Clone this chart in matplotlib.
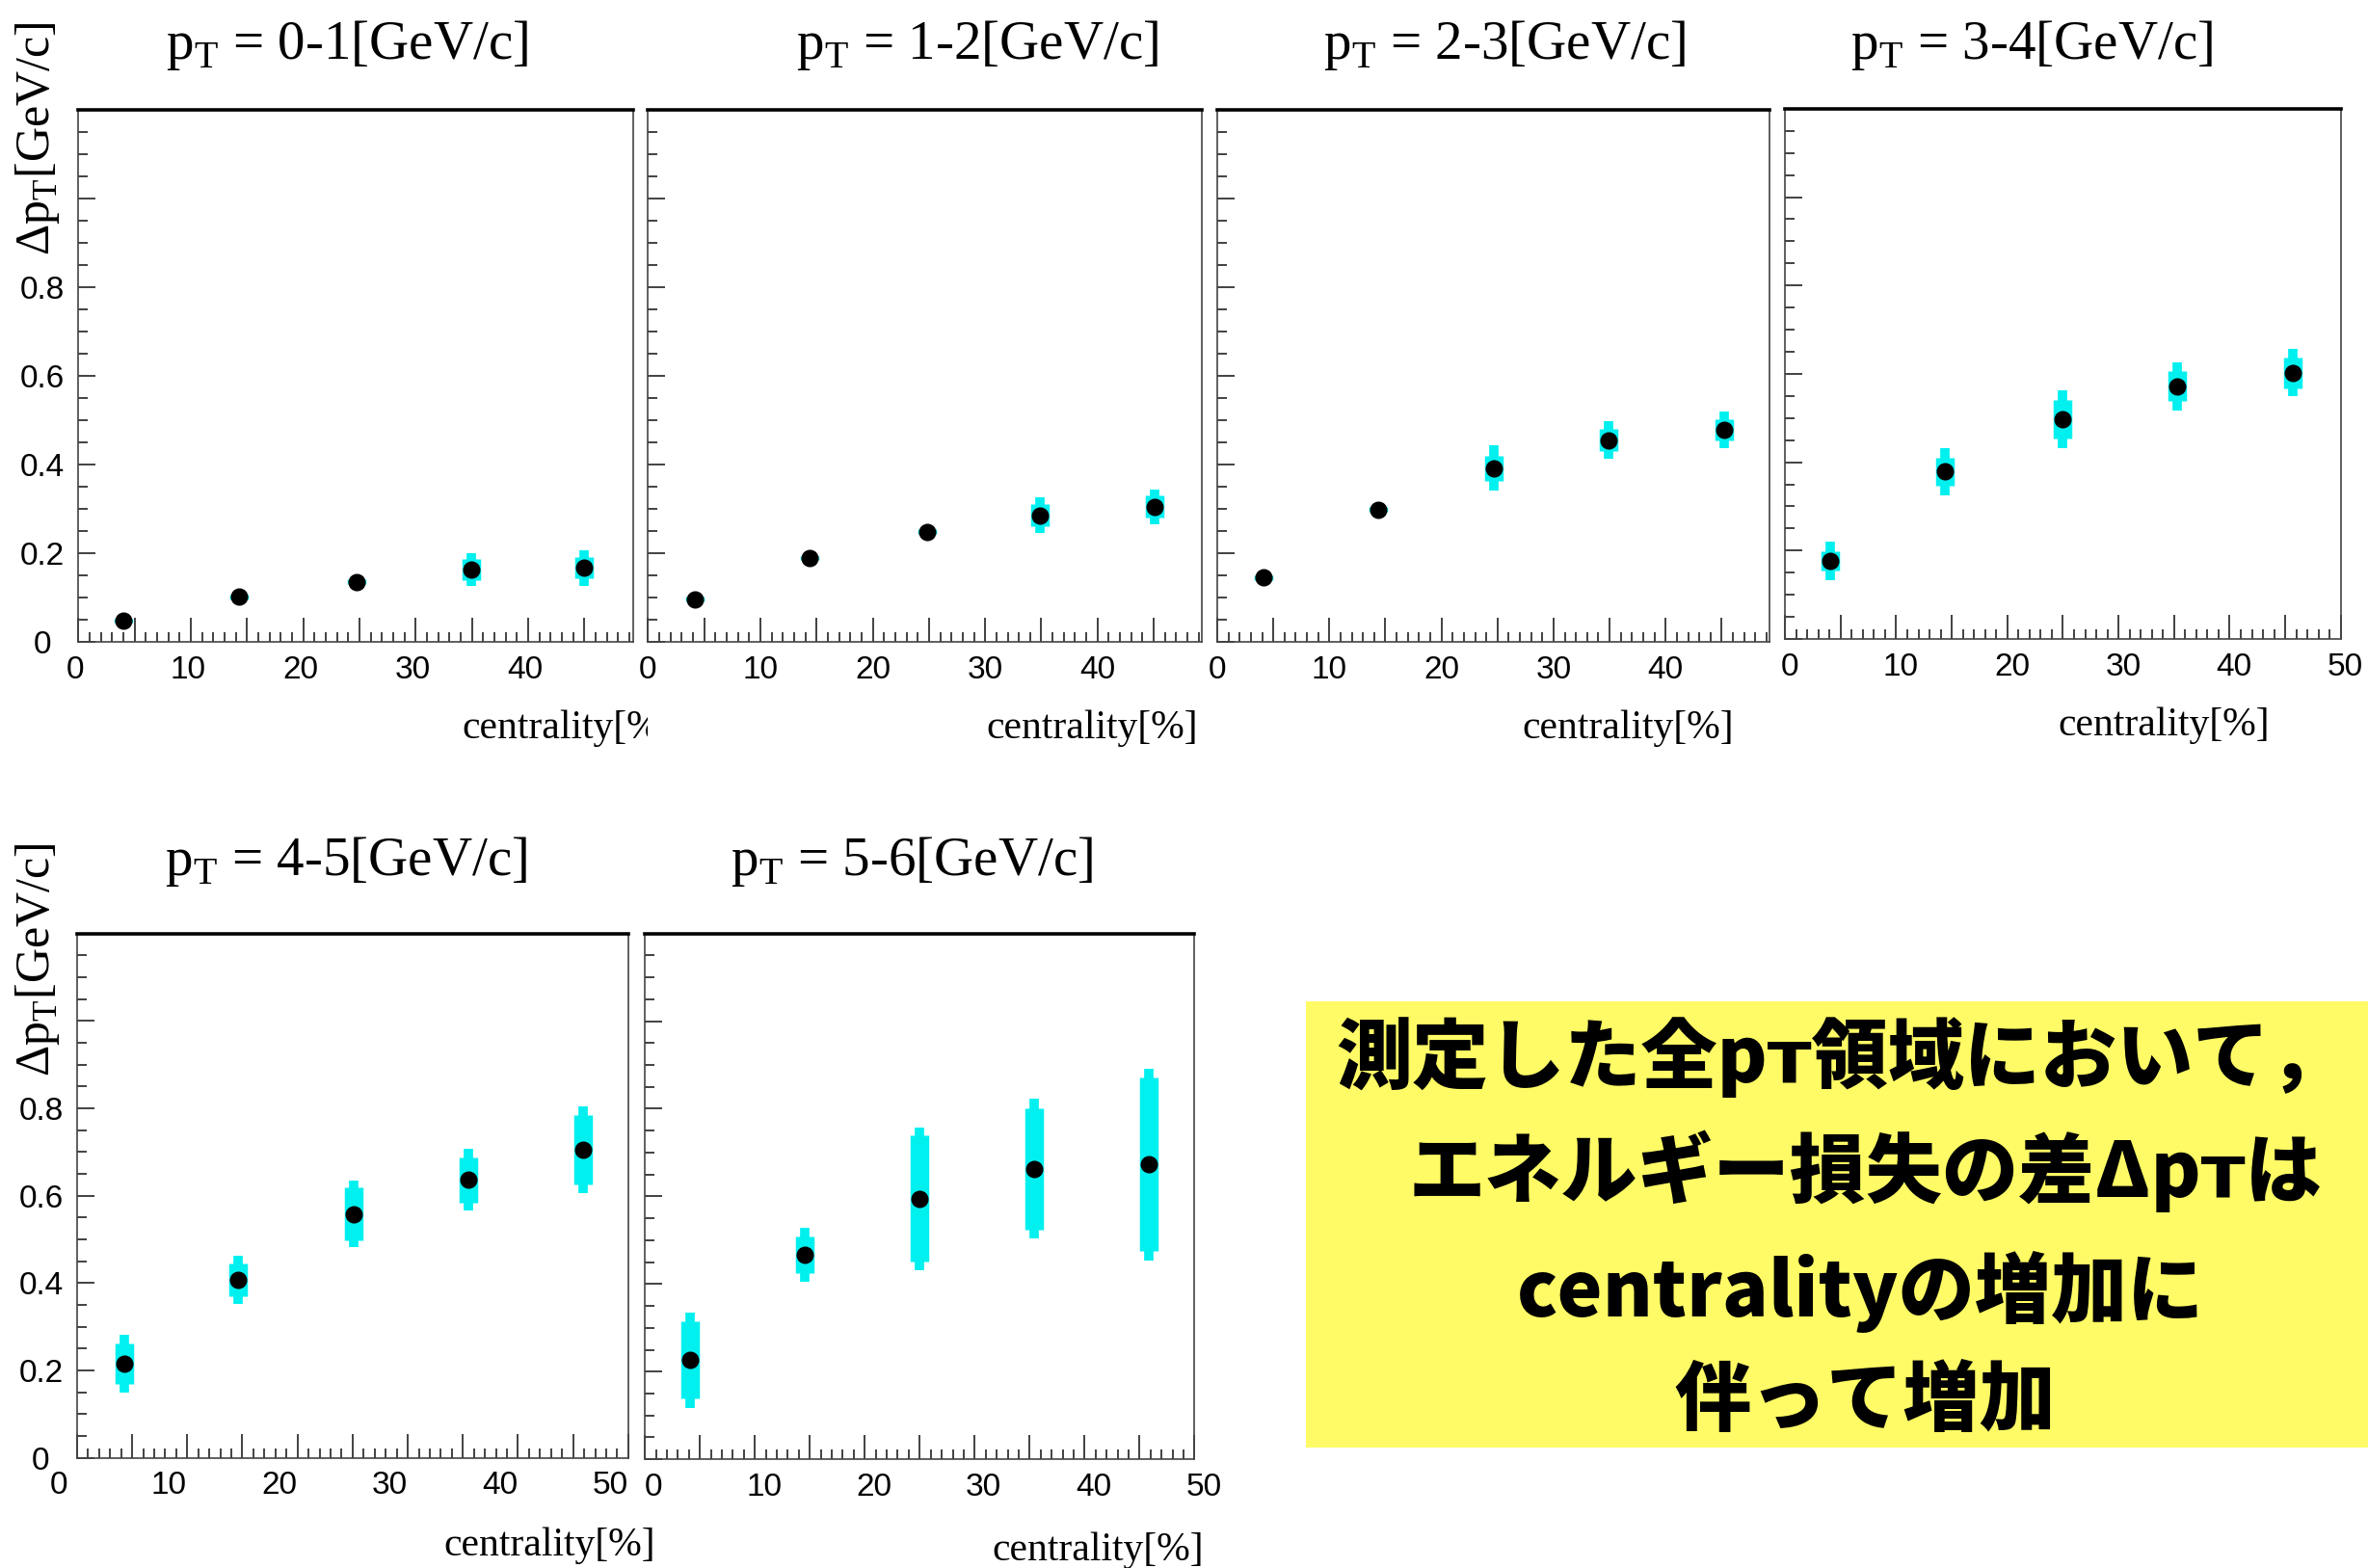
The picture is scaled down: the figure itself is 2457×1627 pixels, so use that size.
import matplotlib
matplotlib.use("Agg")
import matplotlib.pyplot as plt
from matplotlib.ticker import MultipleLocator, FuncFormatter
from matplotlib.transforms import Bbox, TransformedBbox, ScaledTranslation
from matplotlib.patches import Rectangle

# --- data ---
pt_bins = ["0-1", "1-2", "2-3", "3-4", "4-5", "5-6"]

cent_01 = [4.0, 14.3, 24.7, 34.9, 45.0]
cent_12 = [4.2, 14.4, 24.8, 34.9, 45.1]
cent_23 = [4.1, 14.4, 24.7, 34.9, 45.2]
cent_34 = [4.1, 14.4, 25.0, 35.3, 45.7]
cent_45 = [4.3, 14.6, 25.1, 35.5, 45.9]
cent_56 = [4.1, 14.5, 25.0, 35.4, 45.8]

dpt_01 = [0.048, 0.102, 0.136, 0.163, 0.167]
dpt_12 = [0.097, 0.190, 0.249, 0.286, 0.305]
dpt_23 = [0.145, 0.299, 0.392, 0.456, 0.479]
dpt_34 = [0.177, 0.379, 0.497, 0.572, 0.603]
dpt_45 = [0.215, 0.407, 0.558, 0.636, 0.705]
dpt_56 = [0.226, 0.467, 0.595, 0.663, 0.673]

# outer (thin) error and inner (wide) error
err_tot_01 = [0.008, 0.008, 0.008, 0.037, 0.040]
err_box_01 = [0.005, 0.005, 0.005, 0.024, 0.024]
err_tot_12 = [0.008, 0.008, 0.010, 0.040, 0.040]
err_box_12 = [0.005, 0.005, 0.006, 0.025, 0.025]
err_tot_23 = [0.010, 0.010, 0.051, 0.042, 0.042]
err_box_23 = [0.006, 0.006, 0.028, 0.024, 0.024]
err_tot_34 = [0.044, 0.054, 0.065, 0.054, 0.053]
err_box_34 = [0.022, 0.032, 0.044, 0.034, 0.035]
err_tot_45 = [0.066, 0.055, 0.076, 0.071, 0.100]
err_box_45 = [0.046, 0.038, 0.060, 0.052, 0.079]
err_tot_56 = [0.108, 0.061, 0.163, 0.159, 0.219]
err_box_56 = [0.088, 0.041, 0.144, 0.138, 0.198]

cents = [cent_01, cent_12, cent_23, cent_34, cent_45, cent_56]
dpts = [dpt_01, dpt_12, dpt_23, dpt_34, dpt_45, dpt_56]
errs_tot = [err_tot_01, err_tot_12, err_tot_23, err_tot_34, err_tot_45, err_tot_56]
errs_box = [err_box_01, err_box_12, err_box_23, err_box_34, err_box_45, err_box_56]
x_max = [49.3, 49.3, 49.3, 50, 50, 50]

summary_lines = ["測定した全pᴛ領域において，",
                 "エネルギー損失の差Δpᴛは",
                 "centralityの増加に",
                 "伴って増加"]

# --- layout (in reference pixel units of a 1568x1038 view) ---
W, H = 1568.0, 1038.0
panel_box = [(52, 419, 73, 425), (429, 796, 73, 425), (806, 1172, 73, 425),
             (1182, 1550, 72, 423), (51, 416, 618, 965), (427, 791, 618, 966)]
title_pos = [(230, 39), (647, 39), (996, 39), (1345, 39), (229, 579), (604, 579)]
xlab_pos = [(446, 489), (793, 489), (1148, 489), (1503, 487), (434, 1030), (797, 1033)]
# the x tick labels sit a little off their ticks in the reference
xlab_shift = [-2, 0, 0, 3, -12, 6]
CYAN = "#00f0f0"

plt.rcParams["font.family"] = ["Liberation Sans", "DejaVu Sans"]
fig = plt.figure(figsize=(24.57, 16.27), dpi=100)


def fx(x):
    return x / W


def fy(y):
    return 1 - y / H


axes = []
for i, (l, r, t, b) in enumerate(panel_box):
    ax = fig.add_axes([fx(l), fy(b), (r - l) / W, (b - t) / H])
    axes.append(ax)

    ax.errorbar(cents[i], dpts[i], yerr=errs_tot[i], fmt="none",
                ecolor=CYAN, elinewidth=7, capsize=0, zorder=2)
    ax.errorbar(cents[i], dpts[i], yerr=errs_box[i], fmt="none",
                ecolor=CYAN, elinewidth=14, capsize=0, zorder=3)
    ax.plot(cents[i], dpts[i], "o", color="black", markersize=12, zorder=4)

    ax.set_xlim(0, x_max[i])
    ax.set_ylim(0, 1.2)

    ax.xaxis.set_major_locator(MultipleLocator(5))
    ax.xaxis.set_minor_locator(MultipleLocator(1))
    ax.yaxis.set_major_locator(MultipleLocator(0.2))
    ax.yaxis.set_minor_locator(MultipleLocator(0.05))
    ax.xaxis.set_major_formatter(FuncFormatter(
        lambda v, p: f"{int(round(v))}" if round(v) % 10 == 0 else ""))
    if i in (0, 4):
        ax.yaxis.set_major_formatter(FuncFormatter(
            lambda v, p: ("0" if abs(v) < 1e-9 else f"{v:.1f}") if v < 0.95 else ""))
    else:
        ax.yaxis.set_major_formatter(FuncFormatter(lambda v, p: ""))

    ax.tick_params(axis="both", which="both", direction="in", top=False,
                   right=False, color="#333333", width=1.3)
    ax.tick_params(axis="x", which="major", length=18, labelsize=24, pad=10)
    ax.tick_params(axis="x", which="minor", length=7)
    ax.tick_params(axis="y", which="major", length=13, labelsize=24, pad=27)
    ax.tick_params(axis="y", which="minor", length=7)
    for lab in ax.get_yticklabels():
        lab.set_horizontalalignment("center")
    shift = ScaledTranslation(xlab_shift[i] * 1.567 / 100, 0, fig.dpi_scale_trans)
    for lab in ax.get_xticklabels():
        lab.set_transform(lab.get_transform() + shift)

    for side in ("left", "right", "bottom"):
        ax.spines[side].set_linewidth(1.2)
        ax.spines[side].set_color("#444444")
    ax.spines["top"].set_linewidth(2.6)
    ax.spines["top"].set_color("black")

    tx, ty = title_pos[i]
    fig.text(fx(tx), fy(ty), r"p$_\mathregular{T}$ = " + pt_bins[i] + "[GeV/c]",
             ha="center", va="baseline", fontsize=41, family="Liberation Serif")

    lx, ly = xlab_pos[i]
    xl = fig.text(fx(lx), fy(ly), "centrality[%]", ha="right", va="baseline",
                  fontsize=30, family="Liberation Serif")
    if i == 0:
        # first panel's label is cut by the neighbouring frame
        clip = TransformedBbox(Bbox([[0, 0], [fx(panel_box[1][0]), 1]]),
                               fig.transFigure)
        xl.set_clip_box(clip)
        xl.set_clip_on(True)

# y-axis titles
for yc in (92, 635):
    fig.text(fx(25), fy(yc), r"Δp$_\mathregular{T}$[GeV/c]", rotation=90,
             ha="center", va="center", fontsize=36, family="Liberation Serif")

# yellow summary box
fig.patches.append(Rectangle((fx(865), fy(958)), 1 - fx(865), (958 - 663) / H,
                             transform=fig.transFigure, facecolor="#fffb66",
                             edgecolor="none", zorder=0))
line_x = [1219, 1235, 1232, 1235]
line_y = [700, 775, 855, 928]
for txt, x, y in zip(summary_lines, line_x, line_y):
    fig.text(fx(x), fy(y), txt, ha="center", va="center", fontsize=57,
             fontweight="heavy", family=["Noto Sans CJK JP", "DejaVu Sans"])

fig.savefig("out.png", dpi=100, facecolor="white")
